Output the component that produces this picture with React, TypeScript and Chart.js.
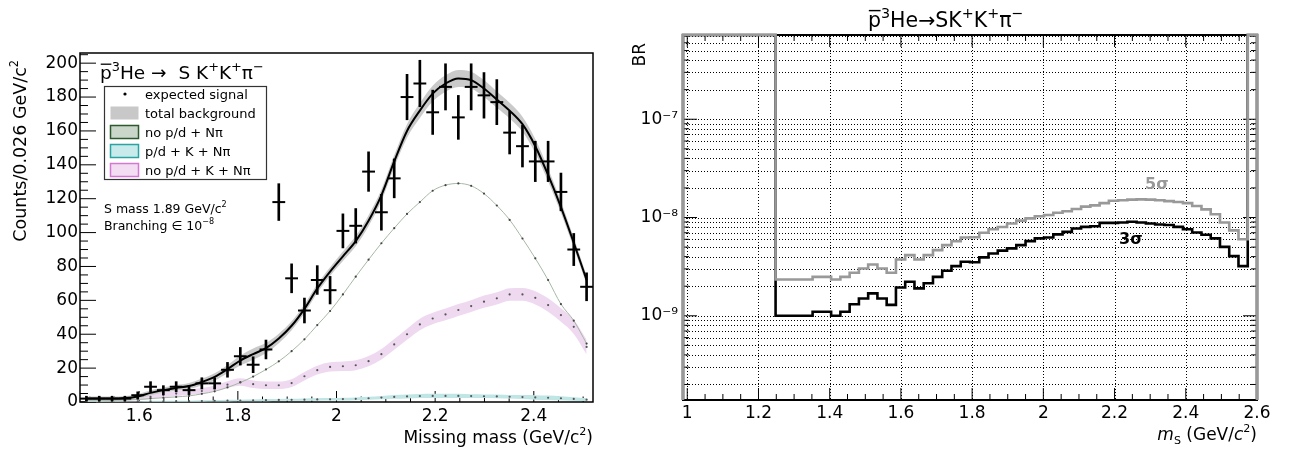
import React, { useEffect, useRef } from 'react';
import { Chart, registerables } from 'chart.js';

Chart.register(...registerables);

const FONT = '"DejaVu Sans", "Liberation Sans", Arial, sans-serif';

// ================= Left panel: missing-mass spectrum =================
const MASS_MIN = 1.48;
const MASS_MAX = 2.52;
const MASS_BIN_WIDTH = 0.026;
const COUNTS_MAX = 206;

const MASS_CENTERS = [
  1.493, 1.519, 1.545, 1.571, 1.597, 1.623, 1.649, 1.675, 1.701, 1.727,
  1.753, 1.779, 1.805, 1.831, 1.857, 1.883, 1.909, 1.935, 1.961, 1.987,
  2.013, 2.039, 2.065, 2.091, 2.117, 2.143, 2.169, 2.195, 2.221, 2.247,
  2.273, 2.299, 2.325, 2.351, 2.377, 2.403, 2.429, 2.455, 2.481, 2.507,
];

const DATA_COUNTS = [
  2, 2, 2, 2, 4, 9, 7, 9, 7, 11,
  11, 19, 27, 22, 31, 118, 73, 54, 72, 66,
  101, 104, 136, 112, 132, 180, 188, 171, 186, 168,
  186, 181, 177, 159, 151, 142, 142, 124, 90, 68,
];

const TOTAL_BKG = [
  2.1, 2.0, 2.0, 2.3, 3.3, 5.4, 7.0, 8.3, 9.4, 11.8,
  14.8, 19.4, 24.5, 28.3, 31.8, 37.5, 45, 55, 67, 77,
  86, 95, 107, 122, 142, 160, 172, 182, 188, 191,
  190, 185, 178.5, 172, 164, 151, 134, 115, 94, 72,
];
const TOTAL_BKG_ERR = [
  1.2, 1.2, 1.2, 1.2, 1.3, 1.5, 1.6, 1.7, 1.8, 2.0,
  2.2, 2.5, 3.0, 3.3, 3.0, 2.8, 2.6, 2.6, 2.6, 2.6,
  2.8, 3.0, 3.2, 3.4, 3.6, 4.0, 4.3, 4.6, 4.8, 5.0,
  5.0, 5.0, 4.8, 4.6, 4.4, 4.2, 3.8, 3.4, 3.0, 2.6,
];

// "no p/d + Nπ"
const NOPD_NPI = [
  1.0, 1.0, 1.0, 1.2, 1.5, 2.0, 2.5, 3.0, 3.6, 4.8,
  6.3, 8.6, 11.5, 15.0, 19.2, 24.0, 30.0, 37.0, 45.4, 53.7,
  63.5, 74.0, 84.0, 93.7, 102.6, 111.0, 118.0, 124.7, 128.0, 129.0,
  127.6, 123.0, 116.0, 107.5, 96.5, 84.8, 72.0, 57.8, 48.0, 34.5,
];

// "p/d + K + Nπ"
const PD_K_NPI = [
  0.2, 0.2, 0.3, 0.3, 0.3, 0.4, 0.4, 0.5, 0.5, 0.6,
  0.7, 0.8, 0.9, 1.0, 1.1, 1.2, 1.3, 1.4, 1.5, 1.6,
  1.7, 1.9, 2.2, 2.6, 3.0, 3.3, 3.5, 3.6, 3.6, 3.6,
  3.5, 3.4, 3.3, 3.1, 2.9, 2.7, 2.5, 2.2, 1.8, 1.4,
];
const PD_K_NPI_ERR = [
  0.2, 0.2, 0.2, 0.2, 0.2, 0.3, 0.3, 0.3, 0.3, 0.4,
  0.4, 0.5, 0.5, 0.5, 0.6, 0.6, 0.6, 0.7, 0.7, 0.7,
  0.8, 0.8, 0.9, 1.0, 1.1, 1.2, 1.2, 1.2, 1.2, 1.2,
  1.1, 1.1, 1.1, 1.1, 1.2, 1.3, 1.3, 1.2, 1.0, 0.8,
];

// "no p/d + K + Nπ"
const NOPD_K_NPI = [
  0.8, 0.9, 1.0, 1.3, 2.0, 3.0, 4.0, 5.0, 5.8, 6.5,
  8.0, 10.2, 11.8, 10.5, 9.9, 9.9, 11.2, 15.2, 18.8, 20.7,
  21.1, 21.7, 24.1, 28.2, 34.0, 40.0, 45.8, 49.3, 51.7, 54.3,
  56.6, 59.2, 61.2, 63.5, 63.5, 61.5, 57.2, 51.3, 44.4, 32.5,
];
const NOPD_K_NPI_ERR = [
  0.6, 0.6, 0.7, 0.8, 1.0, 1.2, 1.4, 1.5, 1.6, 1.7,
  1.8, 2.0, 2.2, 2.2, 2.2, 2.2, 2.3, 2.5, 2.6, 2.7,
  2.8, 2.9, 3.0, 3.1, 3.2, 3.3, 3.4, 3.4, 3.5, 3.5,
  3.5, 3.6, 3.6, 3.7, 3.8, 3.9, 4.0, 4.0, 4.2, 4.4,
];

const MASS_TICKS = [1.6, 1.8, 2.0, 2.2, 2.4];
const COUNT_TICKS = [0, 20, 40, 60, 80, 100, 120, 140, 160, 180, 200];

// ================= Right panel: BR upper limits =================
const BR_MIN = 1.39e-10;
const BR_MAX = 7.2e-7;
const OFF = BR_MAX; // bins above the plotted range (clipped at frame top)

const MS_EDGES = [
  0.988, 1.014, 1.04, 1.066, 1.092, 1.118, 1.144, 1.17, 1.196, 1.222,
  1.248, 1.274, 1.3, 1.326, 1.352, 1.378, 1.404, 1.43, 1.456, 1.482,
  1.508, 1.534, 1.56, 1.586, 1.612, 1.638, 1.664, 1.69, 1.716, 1.742,
  1.768, 1.794, 1.82, 1.846, 1.872, 1.898, 1.924, 1.95, 1.976, 2.002,
  2.028, 2.054, 2.08, 2.106, 2.132, 2.158, 2.184, 2.21, 2.236, 2.262,
  2.288, 2.314, 2.34, 2.366, 2.392, 2.418, 2.444, 2.47, 2.496, 2.522,
  2.548, 2.574, 2.6,
];

const BR_5SIGMA = [
  OFF, OFF, OFF, OFF, OFF, OFF, OFF, OFF, OFF, OFF,
  2.34e-9, 2.34e-9, 2.34e-9, 2.34e-9, 2.49e-9, 2.49e-9, 2.34e-9, 2.49e-9, 2.74e-9, 3.03e-9,
  3.33e-9, 3.03e-9, 2.74e-9, 3.74e-9, 4.14e-9, 3.74e-9, 4.14e-9, 4.66e-9, 5.24e-9, 5.74e-9,
  6.27e-9, 6.3e-9, 7.0e-9, 7.6e-9, 8.0e-9, 8.7e-9, 9.3e-9, 9.8e-9, 1.03e-8, 1.06e-8,
  1.12e-8, 1.16e-8, 1.22e-8, 1.29e-8, 1.33e-8, 1.4e-8, 1.48e-8, 1.5e-8, 1.52e-8, 1.53e-8,
  1.52e-8, 1.5e-8, 1.47e-8, 1.44e-8, 1.4e-8, 1.31e-8, 1.21e-8, 1.08e-8, 8.9e-9, 7.4e-9,
  6.0e-9, OFF,
];

const BR_3SIGMA = [
  OFF, OFF, OFF, OFF, OFF, OFF, OFF, OFF, OFF, OFF,
  1.0e-9, 1.0e-9, 1.0e-9, 1.0e-9, 1.1e-9, 1.1e-9, 1.0e-9, 1.1e-9, 1.31e-9, 1.5e-9,
  1.69e-9, 1.5e-9, 1.29e-9, 1.94e-9, 2.22e-9, 1.9e-9, 2.14e-9, 2.49e-9, 2.87e-9, 3.2e-9,
  3.55e-9, 3.5e-9, 3.93e-9, 4.3e-9, 4.6e-9, 4.85e-9, 5.24e-9, 5.75e-9, 6.13e-9, 6.27e-9,
  6.73e-9, 7.15e-9, 7.74e-9, 8.03e-9, 8.15e-9, 8.83e-9, 8.83e-9, 8.9e-9, 9.05e-9, 8.9e-9,
  8.7e-9, 8.5e-9, 8.4e-9, 8.03e-9, 7.6e-9, 7.05e-9, 6.67e-9, 6.13e-9, 5.03e-9, 4.05e-9,
  3.2e-9, OFF,
];

const MS_TICKS = [1.0, 1.2, 1.4, 1.6, 1.8, 2.0, 2.2, 2.4, 2.6];

// ================= helpers =================
type Seg = { t: string; sup?: boolean; sub?: boolean; it?: boolean; over?: boolean };

function drawRich(
  ctx: CanvasRenderingContext2D,
  segs: Seg[],
  x: number,
  y: number,
  size: number,
  align: 'left' | 'right' | 'center' = 'left',
  color = '#000',
  bold = false,
  supScale = 0.65,
) {
  const fontOf = (s: Seg) =>
    `${s.it ? 'italic ' : ''}${bold ? 'bold ' : ''}${s.sup || s.sub ? (size * supScale).toFixed(1) : size}px ${FONT}`;
  const widths = segs.map((s) => {
    ctx.font = fontOf(s);
    return ctx.measureText(s.t).width;
  });
  const total = widths.reduce((a, b) => a + b, 0);
  let cx = align === 'right' ? x - total : align === 'center' ? x - total / 2 : x;
  ctx.save();
  ctx.fillStyle = color;
  ctx.strokeStyle = color;
  ctx.textAlign = 'left';
  ctx.textBaseline = 'alphabetic';
  segs.forEach((s, i) => {
    ctx.font = fontOf(s);
    const dy = s.sup ? -size * 0.45 : s.sub ? size * 0.25 : 0;
    ctx.fillText(s.t, cx, y + dy);
    if (s.over) {
      ctx.lineWidth = Math.max(1, size * 0.07);
      const oy = y - size * 0.8;
      ctx.beginPath();
      ctx.moveTo(cx + size * 0.04, oy);
      ctx.lineTo(cx + widths[i] - size * 0.02, oy);
      ctx.stroke();
    }
    cx += widths[i];
  });
  ctx.restore();
}

interface FrameOpts {
  frameWidth: number;
  xMinor: number[];
  yMinor: number[];
  xMajorLen: number;
  xMinorLen: number;
  yMajorLen: number;
  yMinorLen: number;
  mirror: boolean;
  grid: boolean;
  yIsMajor?: (v: number) => boolean;
  text: (ctx: CanvasRenderingContext2D) => void;
}

function makeFramePlugin(o: FrameOpts) {
  return {
    id: 'rootFrame',
    beforeDatasetsDraw(chart: any) {
      const { ctx, chartArea: a } = chart;
      const xs = chart.scales.x;
      const ys = chart.scales.y;
      ctx.save();
      ctx.strokeStyle = '#000';
      if (o.grid) {
        ctx.lineWidth = 1;
        ctx.setLineDash([1, 2]);
        ctx.beginPath();
        xs.ticks.forEach((t: any) => {
          const p = Math.round(xs.getPixelForValue(t.value)) + 0.5;
          ctx.moveTo(p, a.top);
          ctx.lineTo(p, a.bottom);
        });
        ys.ticks.forEach((t: any) => {
          const p = Math.round(ys.getPixelForValue(t.value)) + 0.5;
          ctx.moveTo(a.left, p);
          ctx.lineTo(a.right, p);
        });
        ctx.stroke();
        ctx.setLineDash([]);
      }
      ctx.lineWidth = 1;
      ctx.beginPath();
      const xt = (v: number, len: number) => {
        const p = xs.getPixelForValue(v);
        ctx.moveTo(p, a.bottom);
        ctx.lineTo(p, a.bottom - len);
        if (o.mirror) {
          ctx.moveTo(p, a.top);
          ctx.lineTo(p, a.top + len);
        }
      };
      const yt = (v: number, len: number) => {
        const p = ys.getPixelForValue(v);
        ctx.moveTo(a.left, p);
        ctx.lineTo(a.left + len, p);
        if (o.mirror) {
          ctx.moveTo(a.right, p);
          ctx.lineTo(a.right - len, p);
        }
      };
      xs.ticks.forEach((t: any) => xt(t.value, o.xMajorLen));
      o.xMinor.forEach((v) => xt(v, o.xMinorLen));
      ys.ticks.forEach((t: any) =>
        yt(t.value, o.yIsMajor && !o.yIsMajor(t.value) ? o.yMinorLen : o.yMajorLen),
      );
      o.yMinor.forEach((v) => yt(v, o.yMinorLen));
      ctx.stroke();
      ctx.lineWidth = o.frameWidth;
      ctx.strokeRect(a.left, a.top, a.right - a.left, a.bottom - a.top);
      ctx.restore();
    },
    afterDraw(chart: any) {
      o.text(chart.ctx);
    },
  };
}

const tickFont = { family: FONT, size: 17 };
const fmtNum = (v: number) => String(+Number(v).toFixed(2));

const isDecade = (v: number) => Math.abs(Math.log10(v) - Math.round(Math.log10(v))) < 1e-6;
const SUP: Record<string, string> = {
  '-': '⁻', '0': '⁰', '1': '¹', '2': '²', '3': '³', '4': '⁴', '5': '⁵', '6': '⁶', '7': '⁷', '8': '⁸', '9': '⁹',
};
const toSup = (s: string) => s.split('').map((c) => SUP[c] || c).join('');

// ================= Left chart config =================
function leftConfig(): any {
  const pts = (ys: number[]) => MASS_CENTERS.map((x, i) => ({ x, y: ys[i] }));
  const band = (c: number[], e: number[], s: number) =>
    MASS_CENTERS.map((x, i) => ({ x, y: c[i] + s * e[i] }));
  const edge = {
    type: 'line',
    pointRadius: 0,
    borderWidth: 0,
    borderColor: 'rgba(0,0,0,0)',
    cubicInterpolationMode: 'monotone',
  };
  const dots = (ys: number[], color: string, order: number) => ({
    type: 'line',
    data: pts(ys),
    showLine: false,
    pointRadius: 1.1,
    pointBorderWidth: 0,
    pointBackgroundColor: color,
    order,
  });

  const xMinor: number[] = [];
  for (let k = 30; k <= 50; k++) if (k % 4 !== 0) xMinor.push(k * 0.05);
  const yMinor: number[] = [];
  for (let v = 5; v < COUNTS_MAX; v += 5) if (v % 20 !== 0) yMinor.push(v);

  const legendRows = [
    { label: 'expected signal', dot: true },
    { label: 'total background', fill: '#c8c8c8', stroke: '' },
    { label: 'no p/d + Nπ', fill: '#c9d6c9', stroke: '#2d5a2d' },
    { label: 'p/d + K + Nπ', fill: '#c9eaea', stroke: '#2aa3a3' },
    { label: 'no p/d + K + Nπ', fill: '#f3ddf3', stroke: '#d279d2' },
  ];

  const text = (ctx: CanvasRenderingContext2D) => {
    drawRich(
      ctx,
      [
        { t: 'p', over: true }, { t: '3', sup: true }, { t: 'He →  S K' }, { t: '+', sup: true },
        { t: 'K' }, { t: '+', sup: true }, { t: 'π' }, { t: '−', sup: true },
      ],
      100, 79, 18.5, 'left', '#000', false, 0.7,
    );
    ctx.save();
    ctx.fillStyle = '#fff';
    ctx.fillRect(104.5, 86.5, 162, 93);
    ctx.strokeStyle = '#333';
    ctx.lineWidth = 1.2;
    ctx.strokeRect(104.5, 86.5, 162, 93);
    legendRows.forEach((r: any, i) => {
      const cy = 94 + 19 * i;
      if (r.dot) {
        ctx.fillStyle = '#000';
        ctx.beginPath();
        ctx.arc(125, cy, 1.6, 0, Math.PI * 2);
        ctx.fill();
      } else {
        ctx.fillStyle = r.fill;
        ctx.fillRect(110.5, cy - 6.5, 28, 13);
        if (r.stroke) {
          ctx.strokeStyle = r.stroke;
          ctx.lineWidth = 1.5;
          ctx.strokeRect(110.5, cy - 6.5, 28, 13);
        }
      }
      drawRich(ctx, [{ t: r.label }], 145, cy + 4.5, 13);
    });
    ctx.restore();
    drawRich(ctx, [{ t: 'S mass 1.89 GeV/c' }, { t: '2', sup: true }], 104, 213, 12.5);
    drawRich(ctx, [{ t: 'Branching ∈ 10' }, { t: '−8', sup: true }], 104, 230, 12.5);
    drawRich(ctx, [{ t: 'Missing mass (GeV/c' }, { t: '2', sup: true }, { t: ')' }], 593, 443, 17, 'right');
    ctx.save();
    ctx.translate(26, 60);
    ctx.rotate(-Math.PI / 2);
    drawRich(ctx, [{ t: 'Counts/0.026 GeV/c' }, { t: '2', sup: true }], 0, 0, 17.5, 'right');
    ctx.restore();
  };

  return {
    type: 'line',
    data: {
      datasets: [
        // 0,1: no p/d + K + Nπ band
        { ...edge, data: band(NOPD_K_NPI, NOPD_K_NPI_ERR, -1), fill: false, order: 10 },
        { ...edge, data: band(NOPD_K_NPI, NOPD_K_NPI_ERR, 1), fill: '-1', backgroundColor: '#efd9f1', order: 10 },
        // 2,3: p/d + K + Nπ band
        { ...edge, data: band(PD_K_NPI, PD_K_NPI_ERR, -1), fill: false, order: 9 },
        { ...edge, data: band(PD_K_NPI, PD_K_NPI_ERR, 1), fill: '-1', backgroundColor: '#bfe5e5', order: 9 },
        // 4,5: total background band
        { ...edge, data: band(TOTAL_BKG, TOTAL_BKG_ERR, -1), fill: false, order: 8 },
        { ...edge, data: band(TOTAL_BKG, TOTAL_BKG_ERR, 1), fill: '-1', backgroundColor: '#cacaca', order: 8 },
        // 6: no p/d + Nπ (thin curve)
        {
          type: 'line', data: pts(NOPD_NPI), borderColor: '#a6b8a6', borderWidth: 1, pointRadius: 0,
          cubicInterpolationMode: 'monotone', fill: false, order: 7,
        },
        // 7: total background line
        {
          type: 'line', data: pts(TOTAL_BKG), borderColor: '#000', borderWidth: 2, pointRadius: 0,
          cubicInterpolationMode: 'monotone', fill: false, order: 6,
        },
        dots(NOPD_K_NPI, '#555', 5),
        dots(PD_K_NPI, '#555', 5),
        dots(NOPD_NPI, '#444', 5),
        // data: vertical error bars
        {
          type: 'bar',
          data: MASS_CENTERS.map((x, i) => ({
            x,
            y: [DATA_COUNTS[i] - Math.sqrt(DATA_COUNTS[i]), DATA_COUNTS[i] + Math.sqrt(DATA_COUNTS[i])],
          })),
          backgroundColor: '#000',
          borderWidth: 0,
          barThickness: 2,
          grouped: false,
          order: 2,
        },
        // data: horizontal bin-width bars
        {
          type: 'line',
          data: pts(DATA_COUNTS),
          showLine: false,
          pointStyle: 'line',
          pointRadius: (c: any) => {
            const xs = c.chart.scales.x;
            return Math.abs(xs.getPixelForValue(MASS_MIN + MASS_BIN_WIDTH) - xs.getPixelForValue(MASS_MIN)) / 2;
          },
          pointBorderColor: '#000',
          pointBorderWidth: 2,
          order: 1,
        },
      ],
    },
    options: {
      animation: false,
      responsive: true,
      maintainAspectRatio: false,
      events: [],
      layout: { padding: { left: 0, top: 53, right: 27, bottom: 0 } },
      plugins: { legend: { display: false }, tooltip: { enabled: false }, title: { display: false } },
      scales: {
        x: {
          type: 'linear',
          min: MASS_MIN,
          max: MASS_MAX,
          bounds: 'data',
          offset: false,
          grid: { display: false, drawTicks: false },
          border: { display: false },
          ticks: { font: tickFont, color: '#000', padding: 4, maxRotation: 0, minRotation: 0, autoSkip: false, callback: (v: number) => fmtNum(v) },
          afterBuildTicks: (s: any) => { s.ticks = MASS_TICKS.map((v) => ({ value: v })); },
          afterFit: (s: any) => { s.height = 52; },
        },
        y: {
          type: 'linear',
          min: 0,
          max: COUNTS_MAX,
          bounds: 'data',
          grid: { display: false, drawTicks: false },
          border: { display: false },
          ticks: { font: tickFont, color: '#000', padding: 2, autoSkip: false, callback: (v: number) => fmtNum(v) },
          afterBuildTicks: (s: any) => { s.ticks = COUNT_TICKS.map((v) => ({ value: v })); },
          afterFit: (s: any) => { s.width = 80; },
        },
      },
    },
    plugins: [
      makeFramePlugin({
        frameWidth: 1.5, xMinor, yMinor, xMajorLen: 11, xMinorLen: 5.5, yMajorLen: 16, yMinorLen: 8,
        mirror: false, grid: false, text,
      }),
    ],
  };
}

// ================= Right chart config =================
function rightConfig(): any {
  const hist = (vals: number[]) => {
    const out: { x: number; y: number }[] = [{ x: MS_EDGES[0], y: BR_MIN }];
    vals.forEach((v, k) => {
      out.push({ x: MS_EDGES[k], y: v }, { x: MS_EDGES[k + 1], y: v });
    });
    out.push({ x: MS_EDGES[MS_EDGES.length - 1], y: BR_MIN });
    return out;
  };

  const logTicks: number[] = [];
  for (let e = -10; e <= -7; e++) {
    for (let m = 1; m <= 9; m++) {
      const v = m * Math.pow(10, e);
      if (v >= BR_MIN && v <= BR_MAX) logTicks.push(v);
    }
  }
  const xMinor: number[] = [];
  for (let k = 20; k <= 52; k++) if (k % 4 !== 0) xMinor.push(k * 0.05);

  const text = (ctx: CanvasRenderingContext2D) => {
    drawRich(
      ctx,
      [
        { t: 'p', over: true }, { t: '3', sup: true }, { t: 'He→SK' }, { t: '+', sup: true },
        { t: 'K' }, { t: '+', sup: true }, { t: 'π' }, { t: '−', sup: true },
      ],
      248, 27, 20.5, 'left', '#000', false, 0.7,
    );
    drawRich(ctx, [{ t: '5σ' }], 525, 189, 16, 'left', '#999', true);
    drawRich(ctx, [{ t: '3σ' }], 499, 244, 16, 'left', '#000', true);
    drawRich(
      ctx,
      [{ t: 'm', it: true }, { t: 'S', sub: true }, { t: ' (GeV/' }, { t: 'c', it: true }, { t: '2', sup: true }, { t: ')' }],
      637, 440, 17, 'right',
    );
    ctx.save();
    ctx.translate(25, 43);
    ctx.rotate(-Math.PI / 2);
    drawRich(ctx, [{ t: 'BR' }], 0, 0, 17, 'right');
    ctx.restore();
  };

  const histStyle = {
    type: 'line',
    pointRadius: 0,
    tension: 0,
    fill: false,
    clip: 4,
    borderJoinStyle: 'miter',
    borderCapStyle: 'butt',
  };

  return {
    type: 'line',
    data: {
      datasets: [
        { ...histStyle, label: '3σ', data: hist(BR_3SIGMA), borderColor: '#000', borderWidth: 2.6, order: 2 },
        { ...histStyle, label: '5σ', data: hist(BR_5SIGMA), borderColor: '#999', borderWidth: 2.6, order: 1 },
      ],
    },
    options: {
      animation: false,
      responsive: true,
      maintainAspectRatio: false,
      events: [],
      layout: { padding: { left: 0, top: 35, right: 32, bottom: 0 } },
      plugins: { legend: { display: false }, tooltip: { enabled: false }, title: { display: false } },
      scales: {
        x: {
          type: 'linear',
          min: MS_EDGES[0],
          max: MS_EDGES[MS_EDGES.length - 1],
          bounds: 'data',
          offset: false,
          grid: { display: false, drawTicks: false },
          border: { display: false },
          ticks: { font: tickFont, color: '#000', padding: 3, maxRotation: 0, minRotation: 0, autoSkip: false, callback: (v: number) => fmtNum(v) },
          afterBuildTicks: (s: any) => { s.ticks = MS_TICKS.map((v) => ({ value: v })); },
          afterFit: (s: any) => { s.height = 54; },
        },
        y: {
          type: 'logarithmic',
          min: BR_MIN,
          max: BR_MAX,
          bounds: 'data',
          grid: { display: false, drawTicks: false },
          border: { display: false },
          ticks: {
            font: tickFont, color: '#000', padding: 5, autoSkip: false,
            callback: (v: number) => (isDecade(v) ? '10' + toSup(String(Math.round(Math.log10(v)))) : ''),
          },
          afterBuildTicks: (s: any) => { s.ticks = logTicks.map((v) => ({ value: v, major: isDecade(v) })); },
          afterFit: (s: any) => { s.width = 63; },
        },
      },
    },
    plugins: [
      makeFramePlugin({
        frameWidth: 2, xMinor, yMinor: [], xMajorLen: 12, xMinorLen: 6, yMajorLen: 14, yMinorLen: 6,
        mirror: true, grid: true, yIsMajor: isDecade, text,
      }),
    ],
  };
}

export default function App() {
  const leftRef = useRef<HTMLCanvasElement>(null);
  const rightRef = useRef<HTMLCanvasElement>(null);
  useEffect(() => {
    const l = new Chart(leftRef.current as HTMLCanvasElement, leftConfig());
    const r = new Chart(rightRef.current as HTMLCanvasElement, rightConfig());
    return () => {
      l.destroy();
      r.destroy();
    };
  }, []);
  return (
    <div style={{ position: 'absolute', left: 0, top: 0, width: 1289, height: 454, background: '#fff', overflow: 'hidden' }}>
      <div style={{ position: 'absolute', left: 0, top: 0, width: 620, height: 454 }}>
        <canvas ref={leftRef} />
      </div>
      <div style={{ position: 'absolute', left: 620, top: 0, width: 669, height: 454 }}>
        <canvas ref={rightRef} />
      </div>
    </div>
  );
}
